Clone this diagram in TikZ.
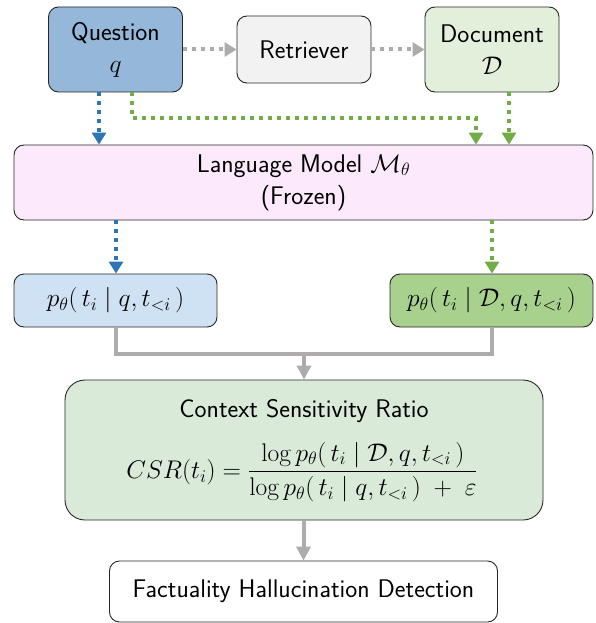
\RequirePackage{fix-cm}
\documentclass[tikz,border=0pt]{standalone}
\usepackage{amsmath}
\usetikzlibrary{arrows.meta}
\definecolor{qblue}{HTML}{95B8DA}
\definecolor{retgray}{HTML}{F2F2F2}
\definecolor{docgreen}{HTML}{E2EFDA}
\definecolor{lmpink}{HTML}{FDE9FC}
\definecolor{pblue}{HTML}{CFE2F3}
\definecolor{pgreen}{HTML}{A9D18E}
\definecolor{csrgreen}{HTML}{D9EAD9}
\definecolor{arrblue}{HTML}{2E75B6}
\definecolor{arrgreen}{HTML}{70AD47}
\definecolor{arrgray}{HTML}{ADABAB}
\newcommand{\bigsf}{\fontsize{25.5}{32}\selectfont\sffamily}
\tikzset{
  box/.style={draw=black!85, line width=0.9pt, rounded corners=10pt, align=center, inner sep=0pt, font=\bigsf},
  dotarrow/.style={line width=4pt, dash pattern=on 4pt off 5pt, -{Triangle[width=14pt,length=12pt]}},
  grayline/.style={draw=arrgray, line width=4pt},
  grayarrow/.style={draw=arrgray, line width=4pt, -{Triangle[width=14pt,length=14pt]}},
}
\begin{document}
\begin{tikzpicture}[x=1pt,y=-1pt]
\useasboundingbox (0,0) rectangle (595,623);
\node[box, fill=qblue, minimum width=134pt, minimum height=85pt] (q) at (115.5,49.5) {Question\\[0pt]$q$};
\node[box, fill=retgray, minimum width=134pt, minimum height=67pt] (r) at (304,49.5) {Retriever};
\node[box, fill=docgreen, minimum width=134pt, minimum height=85pt] (d) at (492,49.5) {Document\\[0pt]$\mathcal{D}$};
\node[box, fill=lmpink, minimum width=579pt, minimum height=75pt] (lm) at (303.5,182.5) {Language Model $\mathcal{M}_\theta$\\(Frozen)};
\node[box, fill=pblue, minimum width=203pt, minimum height=53pt] (pl) at (115.5,300.5) {$p_\theta(\,t_i\mid q, t_{<i}\,)$};
\node[box, fill=pgreen, minimum width=203pt, minimum height=53pt] (pr) at (491.5,300.5) {$p_\theta(\,t_i\mid \mathcal{D}, q, t_{<i}\,)$};
\node[box, fill=csrgreen, rounded corners=20pt, minimum width=478pt, minimum height=140pt] (csr) at (304,450) {};
\node[font=\bigsf] (csrt) at (304,411) {Context Sensitivity Ratio};
\node[font=\bigsf] (csrf) at (302,472) {$CSR(t_i)=\dfrac{\log p_\theta(\,t_i\mid \mathcal{D}, q, t_{<i}\,)}{\log p_\theta(\,t_i\mid q, t_{<i}\,)\;+\;\varepsilon}$};
\node[box, fill=white, minimum width=388pt, minimum height=61pt] (fd) at (303.5,591.5) {Factuality Hallucination Detection};
% top gray dotted
\draw[dotarrow, draw=arrgray] (q.east) -- (r.west);
\draw[dotarrow, draw=arrgray] (r.east) -- (d.west);
% question to LM
\draw[dotarrow, draw=arrblue] (q.south -| 99,0) -- (lm.north -| 99,0);
\coordinate (gq) at (132,118);
\coordinate (gl) at (476,118);
\draw[dotarrow, draw=arrgreen] (q.south -| gq) -- (gq) -- (gl) -- (lm.north -| gl);
\draw[dotarrow, draw=arrgreen] (d.south -| 509,0) -- (lm.north -| 509,0);
% LM to p boxes
\draw[dotarrow, draw=arrblue] (lm.south -| 116,0) -- (pl.north -| 116,0);
\draw[dotarrow, draw=arrgreen] (lm.south -| 492,0) -- (pr.north -| 492,0);
% gray combine
\coordinate (jl) at (116,354);
\coordinate (jr) at (492,354);
\coordinate (jc) at (304,354);
\draw[grayline] (pl.south -| jl) -- (jl) -- (jr) -- (pr.south -| jr);
\draw[grayarrow] (jc) -- (csr.north -| jc);
\draw[grayarrow] (csr.south -| fd.north) -- (fd.north);
\end{tikzpicture}
\end{document}
